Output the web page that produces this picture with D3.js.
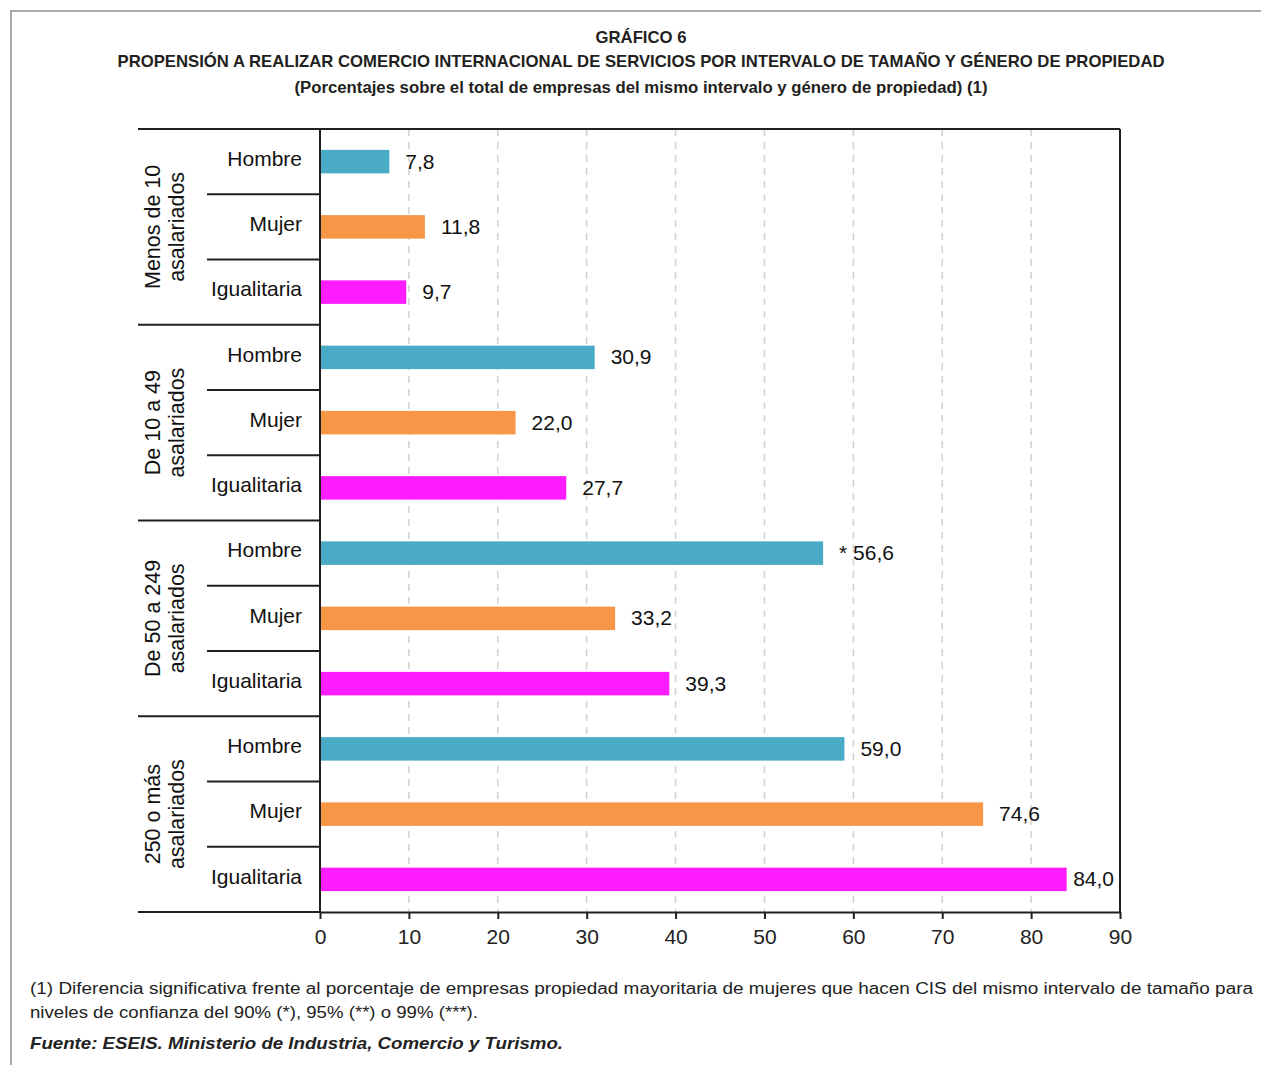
<!DOCTYPE html>
<html>
<head>
<meta charset="utf-8">
<script src="https://cdn.jsdelivr.net/npm/d3@7"></script>
<style>
  html, body { margin: 0; padding: 0; background: #fff; }
  svg { display: block; }
</style>
</head>
<body>
<svg id="chart" width="1261" height="1065"></svg>
<script>
// Size bands (groups) and ownership types (rows within each band)
const groupLines = [
  ["Menos de 10", "asalariados"],
  ["De 10 a 49", "asalariados"],
  ["De 50 a 249", "asalariados"],
  ["250 o más", "asalariados"]
];
const ownership = ["Hombre", "Mujer", "Igualitaria"];

// Percentages per band, one array per ownership type
const hombre      = [7.8, 30.9, 56.6, 59.0];
const mujer       = [11.8, 22.0, 33.2, 74.6];
const igualitaria = [9.7, 27.7, 39.3, 84.0];

// Significance marks shown before the value label
const hombreMarks      = ["", "", "*", ""];
const mujerMarks       = ["", "", "", ""];
const igualitariaMarks = ["", "", "", ""];

const xTicks = [0, 10, 20, 30, 40, 50, 60, 70, 80, 90];

const colors = { Hombre: "#4aabc6", Mujer: "#f79646", Igualitaria: "#ff1cff" };

const titleLines = [
  "GRÁFICO 6",
  "PROPENSIÓN A REALIZAR COMERCIO INTERNACIONAL DE SERVICIOS POR INTERVALO DE TAMAÑO Y GÉNERO DE PROPIEDAD",
  "(Porcentajes sobre el total de empresas del mismo intervalo y género de propiedad) (1)"
];
const noteLines = [
  "(1) Diferencia significativa frente al porcentaje de empresas propiedad mayoritaria de mujeres que hacen CIS del mismo intervalo de tamaño para",
  "niveles de confianza del 90% (*), 95% (**) o 99% (***)."
];
const sourceText = "Fuente: ESEIS. Ministerio de Industria, Comercio y Turismo.";

// Flatten into rows
const seriesValues = { Hombre: hombre, Mujer: mujer, Igualitaria: igualitaria };
const seriesMarks = { Hombre: hombreMarks, Mujer: mujerMarks, Igualitaria: igualitariaMarks };
const rows = [];
groupLines.forEach((g, gi) => {
  ownership.forEach(o => {
    rows.push({ key: gi + "-" + o, group: gi, type: o, value: seriesValues[o][gi], mark: seriesMarks[o][gi] });
  });
});

const svg = d3.select("#chart");
const narrow = "'Liberation Sans Narrow', 'Arial Narrow', 'Liberation Sans', Arial, sans-serif";
const sans = "'Liberation Sans', Arial, Helvetica, sans-serif";
const ink = "#231f20";

// Outer frame (top and left rules)
svg.append("path")
  .attr("d", "M11,1065 V11 H1261")
  .attr("fill", "none").attr("stroke", "#aaaaaa").attr("stroke-width", 2);

// Titles
const titleWidths = [91, 1047, 693];
const titleY = [43, 67, 93];
const titleSizes = [17, 17, 16];
titleLines.forEach((t, i) => {
  svg.append("text")
    .attr("x", 641).attr("y", titleY[i])
    .attr("text-anchor", "middle")
    .attr("font-family", narrow).attr("font-weight", "bold")
    .attr("font-size", titleSizes[i]).attr("fill", ink)
    .attr("textLength", titleWidths[i]).attr("lengthAdjust", "spacingAndGlyphs")
    .text(t);
});

// Plot geometry
const plotLeft = 320, plotRight = 1120, plotTop = 129, plotBottom = 912;
const x = d3.scaleLinear().domain([0, 90]).range([plotLeft, plotRight]);
const y = d3.scaleBand().domain(rows.map(r => r.key)).range([plotTop, plotBottom]).padding(0);
const barH = y.bandwidth() * 0.36;

// Dashed vertical gridlines
svg.append("g").selectAll("line")
  .data(xTicks.filter(t => t > 0 && t < 90))
  .join("line")
  .attr("x1", d => x(d)).attr("x2", d => x(d))
  .attr("y1", plotTop).attr("y2", plotBottom)
  .attr("stroke", "#d4d4d4").attr("stroke-width", 1.6)
  .attr("stroke-dasharray", "7,6");

// Bars
svg.append("g").selectAll("rect")
  .data(rows)
  .join("rect")
  .attr("x", x(0))
  .attr("y", d => y(d.key) + (y.bandwidth() - barH) / 2)
  .attr("width", d => x(d.value) - x(0))
  .attr("height", barH)
  .attr("fill", d => colors[d.type]);

// Value labels (kept inside the plot frame)
const fmt = v => v.toFixed(1).replace(".", ",");
svg.append("g").selectAll("text")
  .data(rows)
  .join("text")
  .attr("y", d => y(d.key) + y.bandwidth() / 2)
  .attr("dy", "0.33em")
  .attr("font-family", sans).attr("font-size", 21).attr("fill", "#111")
  .text(d => (d.mark ? d.mark + " " : "") + fmt(d.value))
  .each(function(d) {
    const w = this.getComputedTextLength();
    const pos = Math.min(x(d.value) + 16, x(90) - w - 6);
    d3.select(this).attr("x", pos);
  });

// Category labels
svg.append("g").selectAll("text")
  .data(rows)
  .join("text")
  .attr("x", 302)
  .attr("y", d => y(d.key) + y.bandwidth() / 2)
  .attr("dy", "0.2em")
  .attr("text-anchor", "end")
  .attr("font-family", sans).attr("font-size", 21).attr("fill", "#111")
  .text(d => d.type);

// Separators on the left (group boundaries long, row boundaries short)
const boundaries = [];
rows.forEach((r, i) => {
  if (i === 0) return;
  const yy = y(r.key);
  boundaries.push({ y: yy, major: rows[i].group !== rows[i - 1].group });
});
svg.append("g").selectAll("line")
  .data(boundaries)
  .join("line")
  .attr("x1", d => d.major ? 138 : 207).attr("x2", plotLeft)
  .attr("y1", d => d.y).attr("y2", d => d.y)
  .attr("stroke", ink).attr("stroke-width", 2);

// Frame of the plot
svg.append("line").attr("x1", 138).attr("x2", plotRight).attr("y1", plotTop).attr("y2", plotTop)
  .attr("stroke", ink).attr("stroke-width", 2);
svg.append("line").attr("x1", 138).attr("x2", plotLeft).attr("y1", plotBottom).attr("y2", plotBottom)
  .attr("stroke", ink).attr("stroke-width", 2);
svg.append("line").attr("x1", plotLeft).attr("x2", plotLeft).attr("y1", plotTop).attr("y2", plotBottom)
  .attr("stroke", ink).attr("stroke-width", 2);
svg.append("line").attr("x1", plotRight).attr("x2", plotRight).attr("y1", plotTop).attr("y2", plotBottom)
  .attr("stroke", ink).attr("stroke-width", 2);

// Bottom axis
const axis = svg.append("g")
  .attr("transform", `translate(0,${plotBottom})`)
  .call(d3.axisBottom(x).tickValues(xTicks).tickSize(7).tickSizeOuter(0).tickPadding(10));
axis.select(".domain").attr("stroke", ink).attr("stroke-width", 2);
axis.selectAll(".tick line").attr("stroke", ink).attr("stroke-width", 2);
axis.selectAll(".tick text")
  .attr("font-family", sans).attr("font-size", 21).attr("fill", "#222");

// Group labels (rotated, two lines)
const groupG = svg.append("g");
groupLines.forEach((lines, gi) => {
  const first = y(gi + "-" + ownership[0]);
  const last = y(gi + "-" + ownership[ownership.length - 1]) + y.bandwidth();
  const cy = (first + last) / 2;
  const t = groupG.append("text")
    .attr("transform", `translate(160,${cy}) rotate(-90)`)
    .attr("text-anchor", "middle")
    .attr("font-family", sans).attr("font-size", 21.5).attr("fill", "#111");
  lines.forEach((l, li) => {
    t.append("tspan").attr("x", 0).attr("y", li * 24).text(l);
  });
});

// Footnotes
const noteWidths = [1223, 448];
noteLines.forEach((l, i) => {
  svg.append("text")
    .attr("x", 30).attr("y", 994 + i * 24)
    .attr("font-family", sans).attr("font-size", 16).attr("fill", "#222")
    .attr("textLength", noteWidths[i]).attr("lengthAdjust", "spacingAndGlyphs")
    .text(l);
});
svg.append("text")
  .attr("x", 30).attr("y", 1049)
  .attr("font-family", sans).attr("font-size", 17)
  .attr("font-weight", "bold").attr("font-style", "italic").attr("fill", "#222")
  .attr("textLength", 533).attr("lengthAdjust", "spacingAndGlyphs")
  .text(sourceText);
</script>
</body>
</html>
